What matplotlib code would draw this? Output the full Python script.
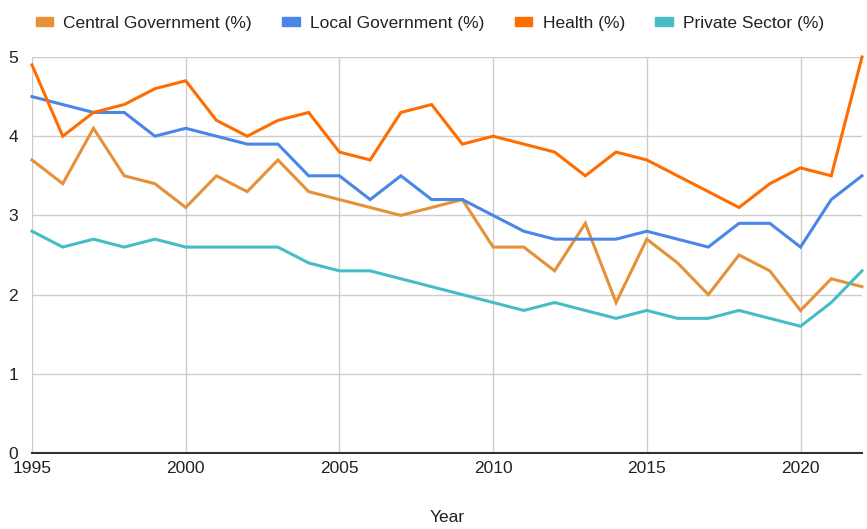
import matplotlib.pyplot as plt
from matplotlib.patches import Patch

years = list(range(1995, 2023))

central = [3.7, 3.4, 4.1, 3.5, 3.4, 3.1, 3.5, 3.3, 3.7, 3.3, 3.2, 3.1, 3.0, 3.1,
           3.2, 2.6, 2.6, 2.3, 2.9, 1.9, 2.7, 2.4, 2.0, 2.5, 2.3, 1.8, 2.2, 2.1]
local = [4.5, 4.4, 4.3, 4.3, 4.0, 4.1, 4.0, 3.9, 3.9, 3.5, 3.5, 3.2, 3.5, 3.2,
         3.2, 3.0, 2.8, 2.7, 2.7, 2.7, 2.8, 2.7, 2.6, 2.9, 2.9, 2.6, 3.2, 3.5]
health = [4.9, 4.0, 4.3, 4.4, 4.6, 4.7, 4.2, 4.0, 4.2, 4.3, 3.8, 3.7, 4.3, 4.4,
          3.9, 4.0, 3.9, 3.8, 3.5, 3.8, 3.7, 3.5, 3.3, 3.1, 3.4, 3.6, 3.5, 5.0]
private = [2.8, 2.6, 2.7, 2.6, 2.7, 2.6, 2.6, 2.6, 2.6, 2.4, 2.3, 2.3, 2.2, 2.1,
           2.0, 1.9, 1.8, 1.9, 1.8, 1.7, 1.8, 1.7, 1.7, 1.8, 1.7, 1.6, 1.9, 2.3]

series = [
    ("Central Government (%)", central, "#e69138"),
    ("Local Government (%)", local, "#4a86e8"),
    ("Health (%)", health, "#ff6d01"),
    ("Private Sector (%)", private, "#46bdc6"),
]

plt.rcParams["font.family"] = ["Liberation Sans", "DejaVu Sans"]

fig = plt.figure(figsize=(8.67, 5.29), dpi=100)
ax = fig.add_axes([32 / 867, 1 - 453 / 529, 830 / 867, 396 / 529])

for name, vals, color in series:
    ax.plot(years, vals, color=color, lw=2.2, solid_joinstyle="miter", clip_on=False)

ax.set_xlim(1995, 2022)
ax.set_ylim(0, 5)
ax.set_xticks(range(1995, 2021, 5))
ax.set_yticks(range(0, 6))
ax.grid(color="#cccccc", lw=1)
ax.set_axisbelow(True)
for s in ["top", "right", "left"]:
    ax.spines[s].set_visible(False)
ax.spines["bottom"].set_color("#333333")
ax.spines["bottom"].set_linewidth(1.5)
ax.tick_params(length=0, labelsize=12.5, colors="#222222")
ax.tick_params(axis="x", pad=6)
ax.tick_params(axis="y", pad=10)
ax.set_xlabel("Year", fontsize=12.5, labelpad=24, color="#222222")

handles = [Patch(color=c, label=n) for n, _, c in series]
fig.legend(handles=handles, loc="upper left", bbox_to_anchor=(20 / 867, 1.0),
           ncol=4, frameon=False, fontsize=12.5, handlelength=1.0, handleheight=0.45,
           handletextpad=0.6, columnspacing=1.75, labelcolor="#222222")

fig.savefig("out.png", dpi=100)
